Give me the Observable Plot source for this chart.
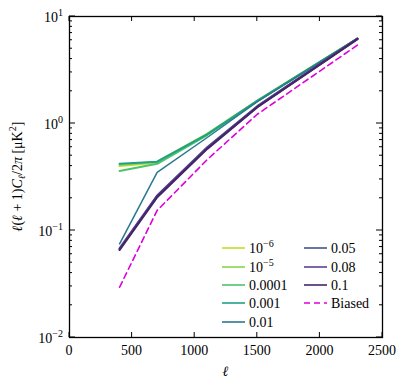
<!DOCTYPE html>
<html>
<head>
<meta charset="utf-8">
<script src="https://cdn.jsdelivr.net/npm/d3@7"></script>
<script src="https://cdn.jsdelivr.net/npm/@observablehq/plot@0.6"></script>
<style>
  html, body { margin: 0; padding: 0; background: #fff; }
  svg text { font-family: "Liberation Serif", "DejaVu Serif", serif !important; }
</style>
</head>
<body>
<div id="chart"></div>
<script>
// ---- data ----
const ells = [400, 700, 1100, 1500, 2300];
const seriesNames = ["1e-6", "1e-5", "0.0001", "0.001", "0.01", "0.05", "0.08", "0.1", "Biased"];
const seriesLabels = [["10", "−6"], ["10", "−5"], ["0.0001"], ["0.001"], ["0.01"], ["0.05"], ["0.08"], ["0.1"], ["Biased"]];
const v_1e6   = [0.40, 0.43, 0.80, 1.62, 6.2];
const v_1e5   = [0.41, 0.44, 0.80, 1.64, 6.2];
const v_1e4   = [0.36, 0.42, 0.78, 1.62, 6.2];
const v_1e3   = [0.42, 0.44, 0.79, 1.63, 6.2];
const v_001   = [0.075, 0.35, 0.74, 1.60, 6.2];
const v_005   = [0.068, 0.212, 0.60, 1.45, 6.2];
const v_008   = [0.067, 0.209, 0.59, 1.43, 6.2];
const v_01    = [0.066, 0.205, 0.58, 1.42, 6.15];
const v_bias  = [0.0295, 0.154, 0.46, 1.22, 5.4];
const allValues = [v_1e6, v_1e5, v_1e4, v_1e3, v_001, v_005, v_008, v_01, v_bias];
const colors = ["#c2df23", "#86d549", "#4ec36b", "#1fa088", "#2a788e", "#44558f", "#5e3f92", "#46246a", "#dd00dd"];
const widths = [2, 2, 2, 2, 1.5, 2.2, 2.2, 2.2, 1.6];
const xTicks = [0, 500, 1000, 1500, 2000, 2500];
const yTicks = [0.01, 0.1, 1, 10];
const yTickLabels = [["10", "−2"], ["10", "−1"], ["10", "0"], ["10", "1"]];

(function () {
const rows = [];
seriesNames.forEach((s, i) => ells.forEach((l, j) => rows.push({series: s, idx: i, ell: l, val: allValues[i][j]})));

const W = 407, H = 389;
const mL = 69, mR = 25, mT = 16, mB = 52;

const marks = [];
seriesNames.forEach((s, i) => {
  marks.push(Plot.line(rows.filter(r => r.series === s), {
    x: "ell", y: "val",
    stroke: colors[i], strokeWidth: widths[i],
    strokeDasharray: s === "Biased" ? "6,4" : null,
    strokeLinejoin: "round"
  }));
});
marks.push(Plot.frame({stroke: "#000", strokeWidth: 1.3}));

const chart = Plot.plot({
  width: W, height: H,
  marginLeft: mL, marginRight: mR, marginTop: mT, marginBottom: mB,
  style: {fontFamily: "Liberation Serif, serif", fontSize: "14px", background: "#fff"},
  x: {domain: [0, 2500], axis: null},
  y: {type: "log", domain: [0.01, 10], axis: null},
  marks
});

const svg = d3.select(chart);
const xs = chart.scale("x"), ys = chart.scale("y");
const pTop = mT, pBottom = H - mB, pLeft = mL, pRight = W - mR;
const g = svg.append("g").attr("stroke", "#000").attr("stroke-width", 1);
const FONT = "'Liberation Serif', 'DejaVu Serif', serif";
const txt = () => svg.append("text").style("font-family", FONT).attr("font-size", 14).attr("fill", "#000").attr("text-anchor", "start");

xTicks.forEach(t => {
  const x = xs.apply(t);
  g.append("line").attr("x1", x).attr("x2", x).attr("y1", pBottom).attr("y2", pBottom - 5);
  g.append("line").attr("x1", x).attr("x2", x).attr("y1", pTop).attr("y2", pTop + 5);
  txt().attr("x", x).attr("y", pBottom + 18).attr("text-anchor", "middle").text(String(t));
});
for (let e = -2; e <= 1; e++) {
  for (let m = 1; m <= 9; m++) {
    const v = m * Math.pow(10, e);
    if (v > 10.0001) break;
    const y = ys.apply(v);
    const len = m === 1 ? 6 : 3;
    g.append("line").attr("x1", pLeft).attr("x2", pLeft + len).attr("y1", y).attr("y2", y);
    g.append("line").attr("x1", pRight).attr("x2", pRight - len).attr("y1", y).attr("y2", y);
  }
}
yTicks.forEach((t, i) => {
  const y = ys.apply(t);
  const tx = txt().attr("x", pLeft - 6).attr("y", y + 5.5).attr("text-anchor", "end");
  tx.append("tspan").text(yTickLabels[i][0]);
  tx.append("tspan").attr("dy", -6).attr("font-size", 10).text(yTickLabels[i][1]);
});

txt().attr("x", (pLeft + pRight) / 2).attr("y", H - 13).attr("text-anchor", "middle")
  .attr("font-style", "italic").text("ℓ");

const yl = txt()
  .attr("transform", `translate(22,${(pTop + pBottom) / 2}) rotate(-90)`)
  .attr("text-anchor", "middle");
yl.append("tspan").attr("font-style", "italic").text("ℓ");
yl.append("tspan").text("(");
yl.append("tspan").attr("font-style", "italic").text("ℓ");
yl.append("tspan").text(" + 1)");
yl.append("tspan").attr("font-style", "italic").text("C");
yl.append("tspan").attr("font-style", "italic").attr("font-size", 10).attr("dy", 3).text("ℓ");
yl.append("tspan").attr("dy", -3).text("/2");
yl.append("tspan").attr("font-style", "italic").text("π");
yl.append("tspan").text(" [μK");
yl.append("tspan").attr("font-size", 10).attr("dy", -6).text("2");
yl.append("tspan").attr("dy", 6).text("]");

const legendPos = [
  [222, 248], [222, 267], [222, 285], [222, 303], [222, 322],
  [304, 248], [304, 267], [304, 285], [304, 303]
];
seriesNames.forEach((s, i) => {
  const [lx, ly] = legendPos[i];
  svg.append("line").attr("x1", lx).attr("x2", lx + 23).attr("y1", ly).attr("y2", ly)
    .attr("stroke", colors[i]).attr("stroke-width", 1.6)
    .attr("stroke-dasharray", s === "Biased" ? "6,4" : null);
  const t = txt().attr("x", lx + 27).attr("y", ly + 5);
  t.append("tspan").text(seriesLabels[i][0]);
  if (seriesLabels[i][1]) t.append("tspan").attr("dy", -6).attr("font-size", 10).text(seriesLabels[i][1]);
});

document.getElementById("chart").appendChild(chart);
})();
</script>
</body>
</html>
